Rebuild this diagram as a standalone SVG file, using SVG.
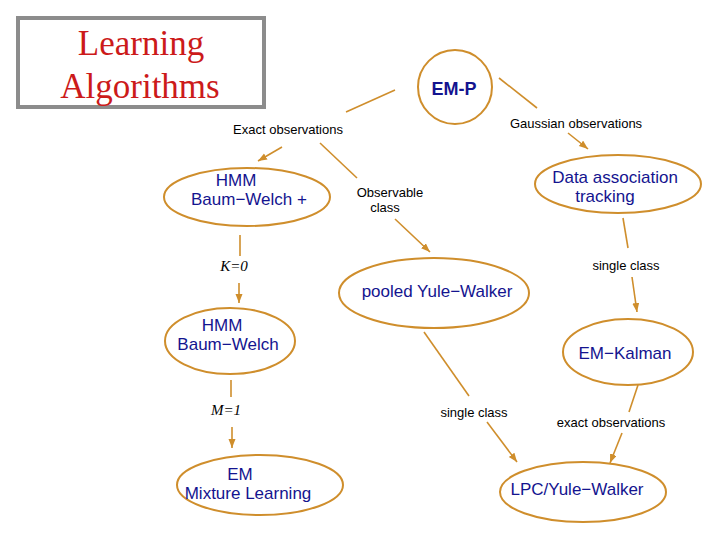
<svg xmlns="http://www.w3.org/2000/svg" width="720" height="540" viewBox="0 0 720 540">
<style>
.node{fill:none;stroke:#cf8e2c;stroke-width:2}
.nt{font-family:"Liberation Sans",Arial,sans-serif;font-size:17px;fill:#14148f;text-anchor:middle}
.lb{font-family:"Liberation Sans",Arial,sans-serif;font-size:13px;fill:#000;text-anchor:middle}
.it{font-family:"Liberation Serif","Times New Roman",serif;font-size:15px;font-style:italic;fill:#000;text-anchor:middle}
.c{stroke:#cf8e2c;stroke-width:1.6;fill:none}
.a{marker-end:url(#ah)}
</style>
<defs>
<marker id="ah" markerWidth="10" markerHeight="8" refX="9" refY="3.5" orient="auto" markerUnits="userSpaceOnUse">
<path d="M0,0 L9,3.5 L0,7 z" fill="#cf8e2c"/>
</marker>
</defs>
<rect width="720" height="540" fill="#fff"/>
<g id="title">
<rect x="18" y="18" width="246" height="89" fill="#fff" stroke="#8c8c8c" stroke-width="4"/>
<text x="141" y="55" font-family="Liberation Serif,'Times New Roman',serif" font-size="35" fill="#cc1a1a" text-anchor="middle">Learning</text>
<text x="140" y="98" font-family="Liberation Serif,'Times New Roman',serif" font-size="35" fill="#cc1a1a" text-anchor="middle">Algorithms</text>
</g>
<g id="connectors">
<line class="c" x1="395" y1="90" x2="346" y2="112"/>
<line class="c" x1="499" y1="78" x2="537" y2="108"/>
<line class="c a" x1="282" y1="147" x2="258" y2="161"/>
<line class="c" x1="320" y1="143" x2="357" y2="178"/>
<line class="c a" x1="395" y1="219" x2="430" y2="252"/>
<line class="c a" x1="568" y1="133" x2="588" y2="149"/>
<line class="c" x1="240" y1="235" x2="240" y2="256"/>
<line class="c a" x1="239" y1="283" x2="239" y2="303"/>
<line class="c" x1="231" y1="380" x2="231" y2="397"/>
<line class="c a" x1="232" y1="427" x2="232" y2="448"/>
<line class="c" x1="424" y1="332" x2="469" y2="396"/>
<line class="c a" x1="487" y1="422" x2="517" y2="462"/>
<line class="c" x1="623" y1="218" x2="628" y2="248"/>
<line class="c a" x1="632" y1="277" x2="637" y2="312"/>
<line class="c" x1="638" y1="385" x2="629" y2="412"/>
<line class="c a" x1="622" y1="433" x2="610" y2="463"/>
<text class="lb" x="288" y="134">Exact observations</text>
<text class="lb" x="576" y="128">Gaussian observations</text>
<text class="lb" x="390" y="197">Observable</text>
<text class="lb" x="385" y="212">class</text>
<text class="it" x="234" y="271">K=0</text>
<text class="it" x="226" y="415">M=1</text>
<text class="lb" x="474" y="417">single class</text>
<text class="lb" x="626" y="270">single class</text>
<text class="lb" x="611" y="427">exact observations</text>
</g>
<g id="emp">
<circle class="node" cx="455" cy="87" r="37"/>
<text x="454" y="95" font-family="Liberation Sans,Arial,sans-serif" font-size="18" font-weight="bold" fill="#14148f" text-anchor="middle">EM-P</text>
</g>
<g id="hmm-bw-plus">
<ellipse class="node" cx="247" cy="197" rx="83" ry="29"/>
<text class="nt" x="236" y="186">HMM</text>
<text class="nt" x="249" y="205">Baum−Welch +</text>
</g>
<g id="data-assoc">
<ellipse class="node" cx="618" cy="184" rx="83" ry="29"/>
<text class="nt" x="615" y="183">Data association</text>
<text class="nt" x="605" y="202">tracking</text>
</g>
<g id="pooled-yw">
<ellipse class="node" cx="434" cy="293" rx="95" ry="35"/>
<text class="nt" x="437" y="297">pooled Yule−Walker</text>
</g>
<g id="hmm-bw">
<ellipse class="node" cx="230" cy="341" rx="65" ry="33"/>
<text class="nt" x="222" y="331">HMM</text>
<text class="nt" x="228" y="350">Baum−Welch</text>
</g>
<g id="em-kalman">
<ellipse class="node" cx="628" cy="352" rx="65" ry="33"/>
<text class="nt" x="625" y="359">EM−Kalman</text>
</g>
<g id="em-mix">
<ellipse class="node" cx="260" cy="485" rx="83" ry="30"/>
<text class="nt" x="240" y="480">EM</text>
<text class="nt" x="248" y="499">Mixture Learning</text>
</g>
<g id="lpc-yw">
<ellipse class="node" cx="583" cy="492" rx="83" ry="30"/>
<text class="nt" x="577" y="495">LPC/Yule−Walker</text>
</g>
</svg>
